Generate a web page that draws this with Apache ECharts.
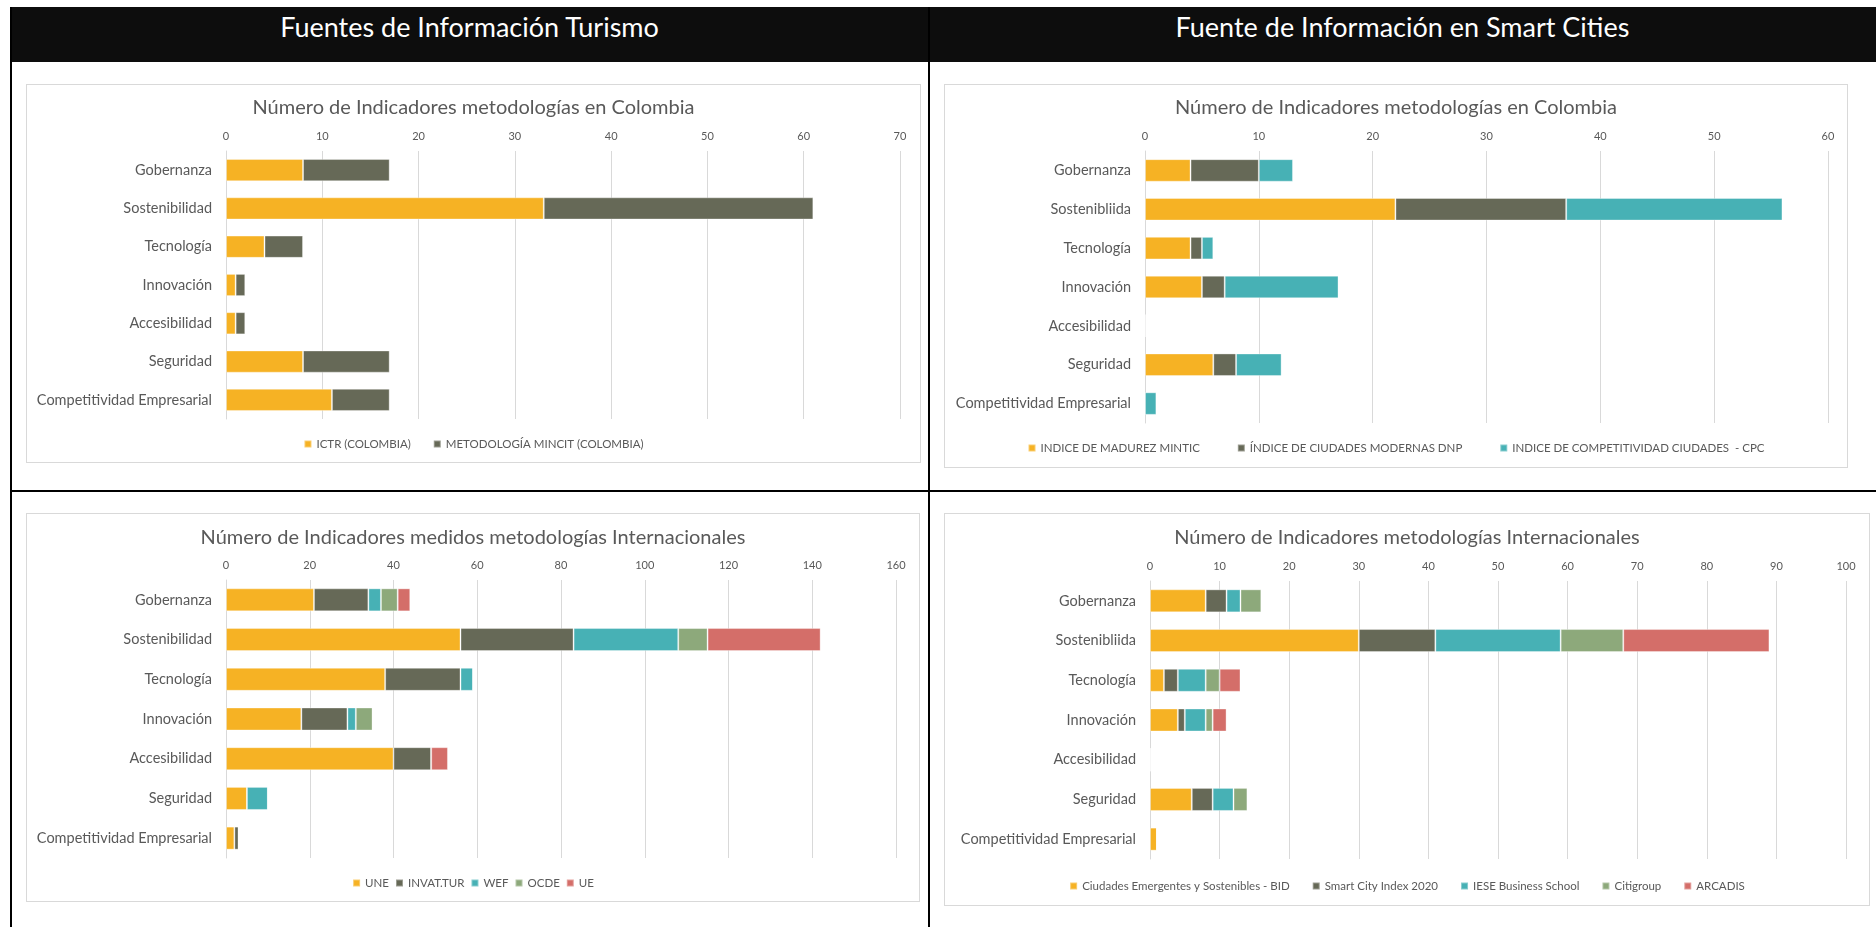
<!DOCTYPE html>
<html>
<head>
<meta charset="utf-8">
<script src="https://cdn.jsdelivr.net/npm/echarts@6/dist/echarts.min.js"></script>
<style>
body{margin:0;background:#fff;width:1876px;height:927px;position:relative;overflow:hidden;font-family:Lato,sans-serif}
.head{position:absolute;top:7px;height:55px;background:#0d0d0d;color:#fff;font-size:27px;line-height:40px;text-align:center}
.line{position:absolute;background:#000}
.panel{position:absolute;border:1px solid #d9d9d9;box-sizing:border-box;background:#fff}
</style>
</head>
<body>
<div class="head" style="left:10px;width:919px">Fuentes de Información Turismo</div>
<div class="head" style="left:929px;width:947px">Fuente de Información en Smart Cities</div>
<div class="line" style="left:10px;top:7px;width:2px;height:920px"></div>
<div class="line" style="left:928px;top:7px;width:2px;height:920px"></div>
<div class="line" style="left:10px;top:490px;width:1866px;height:2px"></div>

<div id="turismoColombia" class="panel" style="left:26px;top:84px;width:895px;height:379px"></div>
<div id="smartColombia" class="panel" style="left:944px;top:84px;width:904px;height:384px"></div>
<div id="turismoInter" class="panel" style="left:26px;top:513px;width:894px;height:389px"></div>
<div id="smartInter" class="panel" style="left:944px;top:513px;width:926px;height:393px"></div>

<script>
// categorias
var catsTurismo = ['Gobernanza', 'Sostenibilidad', 'Tecnología', 'Innovación', 'Accesibilidad', 'Seguridad', 'Competitividad Empresarial'];
var catsSmart = ['Gobernanza', 'Sostenibliida', 'Tecnología', 'Innovación', 'Accesibilidad', 'Seguridad', 'Competitividad Empresarial'];

// turismo - Colombia
var ictrColombia = [8, 33, 4, 1, 1, 8, 11];
var mincitColombia = [9, 28, 4, 1, 1, 9, 6];

// smart cities - Colombia
var madurezMintic = [4, 22, 4, 5, 0, 6, 0];
var ciudadesModernasDnp = [6, 15, 1, 2, 0, 2, 0];
var competitividadCpc = [3, 19, 1, 10, 0, 4, 1];

// turismo - internacionales
var une = [21, 56, 38, 18, 40, 5, 2];
var invatTur = [13, 27, 18, 11, 9, 0, 1];
var wef = [3, 25, 3, 2, 0, 5, 0];
var ocde = [4, 7, 0, 4, 0, 0, 0];
var ue = [3, 27, 0, 0, 4, 0, 0];

// smart cities - internacionales
var bid = [8, 30, 2, 4, 0, 6, 1];
var smartCityIndex = [3, 11, 2, 1, 0, 3, 0];
var iese = [2, 18, 4, 3, 0, 3, 0];
var citigroup = [3, 9, 2, 1, 0, 2, 0];
var arcadis = [0, 21, 3, 2, 0, 0, 0];

var colors = ['#F6B224', '#666957', '#47B1B5', '#8DA97B', '#D46E69'];
var textColor = '#595959';

function drawChart(id, title, cats, names, values, max, interval, grid, titleTop, legendBottom, legendGap) {
    var chart = echarts.init(document.getElementById(id));
    var series = [];
    for (var i = 0; i < names.length; i++) {
        series.push({
            name: names[i],
            type: 'bar',
            stack: 'total',
            data: values[i],
            barCategoryGap: '42%',
            itemStyle: {color: colors[i], borderColor: 'rgba(255,255,255,0.35)', borderWidth: 1},
            animation: false
        });
    }
    chart.setOption({
        textStyle: {fontFamily: 'Lato'},
        title: {
            text: title,
            left: 'center',
            top: titleTop,
            textStyle: {color: textColor, fontSize: 20, fontWeight: 'normal', fontFamily: 'Lato'}
        },
        legend: {
            bottom: legendBottom,
            itemWidth: 7,
            itemHeight: 7,
            itemGap: legendGap,
            icon: 'rect',
            textStyle: {color: textColor, fontSize: 11.5, fontFamily: 'Lato'},
            data: names
        },
        grid: grid,
        xAxis: {
            type: 'value',
            position: 'top',
            min: 0,
            max: max,
            interval: interval,
            axisLine: {show: false},
            axisTick: {show: false},
            axisLabel: {color: textColor, fontSize: 11, margin: 9},
            splitLine: {lineStyle: {color: '#d9d9d9'}}
        },
        yAxis: {
            type: 'category',
            inverse: true,
            data: cats,
            axisLine: {lineStyle: {color: '#d9d9d9'}},
            axisTick: {show: false},
            axisLabel: {color: textColor, fontSize: 14.5, margin: 14}
        },
        series: series
    });
}

drawChart('turismoColombia', 'Número de Indicadores metodologías en Colombia', catsTurismo,
    ['ICTR (COLOMBIA)', 'METODOLOGÍA MINCIT (COLOMBIA)'],
    [ictrColombia, mincitColombia], 70, 10,
    {left: 199, right: 20, top: 66, bottom: 43}, 8, 7, 22);

drawChart('smartColombia', 'Número de Indicadores metodologías en Colombia', catsSmart,
    ['INDICE DE MADUREZ MINTIC', 'ÍNDICE DE CIUDADES MODERNAS DNP', 'INDICE DE COMPETITIVIDAD CIUDADES  - CPC'],
    [madurezMintic, ciudadesModernasDnp, competitividadCpc], 60, 10,
    {left: 200, right: 19, top: 66, bottom: 44}, 8, 8, 37);

drawChart('turismoInter', 'Número de Indicadores medidos metodologías Internacionales', catsTurismo,
    ['UNE', 'INVAT.TUR', 'WEF', 'OCDE', 'UE'],
    [une, invatTur, wef, ocde, ue], 160, 20,
    {left: 199, right: 23, top: 66, bottom: 43}, 9, 7, 6);

drawChart('smartInter', 'Número de Indicadores metodologías Internacionales', catsSmart,
    ['Ciudades Emergentes y Sostenibles - BID', 'Smart City Index 2020', 'IESE Business School', 'Citigroup', 'ARCADIS'],
    [bid, smartCityIndex, iese, citigroup, arcadis], 100, 10,
    {left: 205, right: 23, top: 67, bottom: 46}, 9, 8, 22);
</script>
</body>
</html>
